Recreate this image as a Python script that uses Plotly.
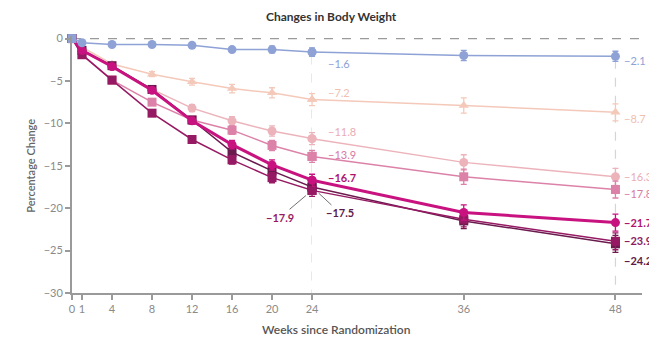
import plotly.graph_objects as go

# Weeks since randomization and mean percentage change in body weight per group
weeks = [0, 1, 4, 8, 12, 16, 20, 24, 36, 48]
placebo = [0, -0.5, -0.7, -0.7, -0.8, -1.3, -1.3, -1.6, -2.0, -2.1]
ret_1mg = [0, -1.0, -3.0, -4.2, -5.1, -5.9, -6.4, -7.2, -7.9, -8.7]
ret_4mg_s2 = [0, -1.4, -3.3, -6.0, -8.2, -9.7, -10.9, -11.8, -14.6, -16.3]
ret_4mg_s4 = [0, -1.9, -4.9, -7.5, -9.6, -10.8, -12.6, -13.9, -16.3, -17.8]
ret_8mg_s2 = [0, -1.4, -3.3, -6.1, -9.7, -12.5, -14.9, -16.7, -20.5, -21.7]
ret_8mg_s4 = [0, -1.9, -4.9, -8.8, -11.9, -14.3, -16.4, -17.9, -21.3, -23.9]
ret_12mg = [0, -1.4, -3.2, -6.0, -9.6, -13.4, -15.6, -17.5, -21.5, -24.2]

# Standard errors shown as error bars
se_placebo = [0, 0.1, 0.2, 0.2, 0.3, 0.3, 0.4, 0.5, 0.6, 0.6]
se_active = [0, 0.1, 0.2, 0.3, 0.4, 0.5, 0.6, 0.7, 0.9, 1.0]

y_ticks = [0, -5, -10, -15, -20, -25, -30]
x_ticks_early = [0, 1, 4, 8, 12, 16, 20, 24]
x_ticks_late = [36, 48]

# (name, values, errors, colour, symbol, line width)
groups = [
    ("Retatrutide 1 mg", ret_1mg, se_active, "#f4c9ba", "triangle-up", 1.5),
    ("Retatrutide 4 mg (2 mg start)", ret_4mg_s2, se_active, "#ecb3bb", "circle", 1.5),
    ("Retatrutide 4 mg (4 mg start)", ret_4mg_s4, se_active, "#dc82a9", "square", 1.5),
    ("Retatrutide 12 mg", ret_12mg, se_active, "#6b1a4e", "square", 1.5),
    ("Retatrutide 8 mg (4 mg start)", ret_8mg_s4, se_active, "#961a63", "square", 1.5),
    ("Retatrutide 8 mg (2 mg start)", ret_8mg_s2, se_active, "#c8127f", "circle", 3),
    ("Placebo", placebo, se_placebo, "#8ea2d6", "circle", 1.5),
]

FONT = "Lato"
fig = go.Figure()

for name, vals, errs, color, symbol, lw in groups:
    symbols = [symbol] * len(weeks)
    if name == "Placebo":
        symbols[0] = "square"
    for axis, keep in (("x", lambda w: w <= 24), ("x2", lambda w: w >= 24)):
        idx = [i for i, w in enumerate(weeks) if keep(w)]
        fig.add_trace(go.Scatter(
            x=[weeks[i] for i in idx],
            y=[vals[i] for i in idx],
            error_y=dict(type="data", array=[errs[i] for i in idx],
                         color=color, thickness=1.3, width=3),
            mode="lines+markers",
            line=dict(color=color, width=lw),
            marker=dict(color=color, size=9, symbol=[symbols[i] for i in idx]),
            name=name, showlegend=False, cliponaxis=False,
            xaxis=axis, yaxis="y",
        ))

# Reference lines: zero change and the week 24 / week 48 time points
fig.add_shape(type="line", xref="paper", yref="y", x0=0, x1=1, y0=0, y1=0,
              line=dict(color="#9a9a9a", width=1.3, dash="dash"), layer="below")
fig.add_shape(type="line", xref="x", yref="y", x0=24, x1=24, y0=-2.0, y1=-30,
              line=dict(color="#d4d4dc", width=1.2, dash="dash"), layer="below")
fig.add_shape(type="line", xref="x2", yref="y", x0=48, x1=48, y0=-2.5, y1=-30,
              line=dict(color="#d4d4dc", width=1.2, dash="dash"), layer="below")

# Value labels at week 24
labels_24 = [
    (placebo[7], "#8ea2d6", -11, 400),
    (ret_1mg[7], "#f0c0b0", 7, 400),
    (ret_4mg_s2[7], "#e9acb4", 7, 400),
    (ret_4mg_s4[7], "#d77aa3", 2, 400),
    (ret_8mg_s2[7], "#b0136e", 3, 700),
]
for v, c, ys, wgt in labels_24:
    fig.add_annotation(x=24, y=v, xref="x", yref="y", text=f"\u2212{abs(v):.1f}",
                       showarrow=False, xanchor="left", xshift=14, yshift=ys,
                       font=dict(family=FONT, size=11, color=c, weight=wgt))

fig.add_annotation(x=24, y=ret_8mg_s4[7], xref="x", yref="y",
                   text=f"\u2212{abs(ret_8mg_s4[7]):.1f}", showarrow=True,
                   arrowhead=0, arrowwidth=1, arrowcolor="#707070",
                   ax=-32, ay=27, standoff=8,
                   font=dict(family=FONT, size=11, color="#9a1a62", weight=700))
fig.add_annotation(x=24, y=ret_12mg[7], xref="x", yref="y",
                   text=f"\u2212{abs(ret_12mg[7]):.1f}", showarrow=True,
                   arrowhead=0, arrowwidth=1, arrowcolor="#707070",
                   ax=28, ay=26, standoff=9,
                   font=dict(family=FONT, size=11, color="#5e1a48", weight=700))

# Value labels at week 48 (run past the right edge of the figure)
labels_48 = [
    (placebo[9], "#8ea2d6", -4, 400),
    (ret_1mg[9], "#f0c0b0", -6, 400),
    (ret_4mg_s2[9], "#e9acb4", 0, 400),
    (ret_4mg_s4[9], "#d77aa3", -4, 400),
    (ret_8mg_s2[9], "#b0136e", 0, 700),
    (ret_8mg_s4[9], "#8e1a5e", 1, 700),
    (ret_12mg[9], "#5e1a48", -17, 700),
]
for v, c, ys, wgt in labels_48:
    fig.add_annotation(x=48, y=v, xref="x2", yref="y", text=f"\u2212{abs(v):.1f}",
                       showarrow=False, xanchor="left", xshift=7, yshift=ys,
                       font=dict(family=FONT, size=11, color=c, weight=wgt))

# Titles
fig.add_annotation(xref="paper", yref="paper", x=0.456, y=1.0757,
                   xanchor="center", yanchor="middle",
                   text="Changes in Body Weight", showarrow=False,
                   font=dict(family=FONT, size=12, color="#333333", weight=700))
fig.add_annotation(xref="paper", yref="paper", x=0.464, y=-0.1437,
                   xanchor="center", yanchor="middle",
                   text="Weeks since Randomization", showarrow=False,
                   font=dict(family=FONT, size=12, color="#555555", weight=600))
fig.add_annotation(xref="paper", yref="paper", x=-0.073, y=0.497,
                   xanchor="center", yanchor="middle",
                   text="Percentage Change", showarrow=False, textangle=-90,
                   font=dict(family=FONT, size=11, color="#666666", weight=600))

axis_common = dict(showgrid=False, zeroline=False, ticks="outside", ticklen=5,
                   tickwidth=1.5, tickcolor="#9a9a9a",
                   tickfont=dict(family=FONT, size=11, color="#8a8a8a"))

split = (315 - 72) / 577
fig.update_layout(
    width=649, height=339,
    margin=dict(l=72, r=0, t=35.5, b=46),
    plot_bgcolor="white", paper_bgcolor="white",
    xaxis=dict(domain=[0, split], range=[0, 24], tickvals=x_ticks_early,
               showline=True, linecolor="#9a9a9a", linewidth=2, anchor="y",
               **axis_common),
    xaxis2=dict(domain=[split, 1], range=[24, 50.1], tickvals=x_ticks_late,
                showline=True, linecolor="#9a9a9a", linewidth=2, anchor="y",
                **axis_common),
    yaxis=dict(range=[-30, 0.3], tickvals=y_ticks, showline=True,
               linecolor="#9a9a9a", linewidth=2, anchor="x", **axis_common),
)

fig.write_html("out.html")
